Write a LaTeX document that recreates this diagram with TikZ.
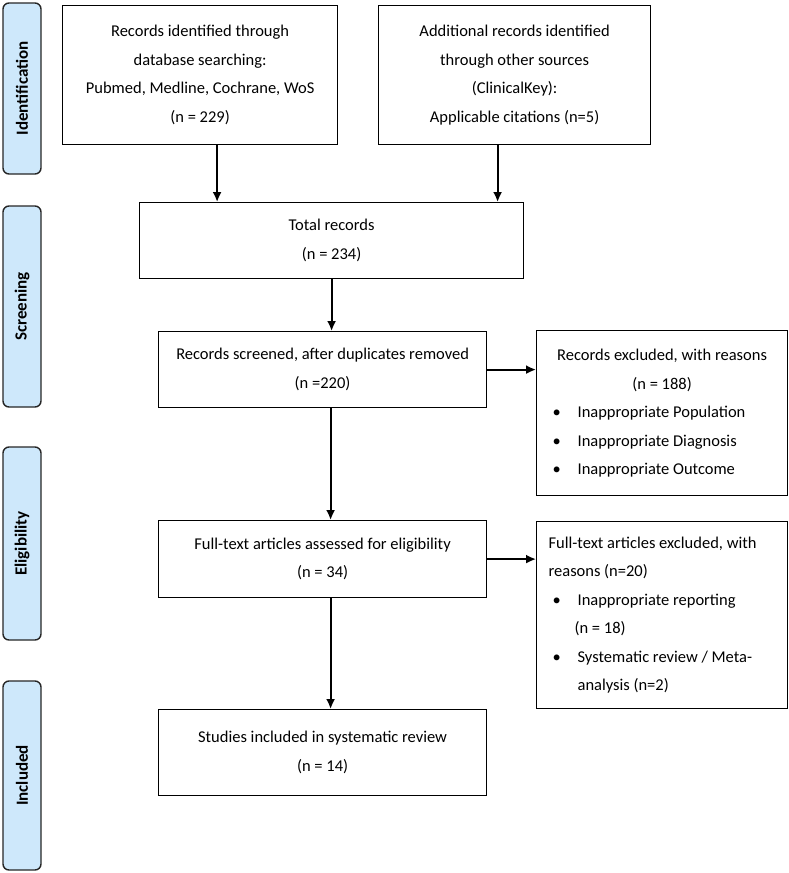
\documentclass[tikz,border=0pt]{standalone}
\usepackage{fontspec}
\setmainfont{Carlito}
\usetikzlibrary{arrows.meta, positioning}
\definecolor{tabblue}{RGB}{206,232,251}
\tikzstyle{block} = [draw, fill=white, rectangle, line width=1.2pt, anchor=north west, inner xsep=6pt, inner ysep=0pt]
\tikzstyle{reasons} = [block, inner xsep=12pt, text width=227pt, align=flush left]
\tikzstyle{phase} = [draw=black!85, fill=tabblue, rectangle, rounded corners=6pt, line width=1.4pt, rotate=90, minimum height=38pt, font=\fontsize{17}{20}\selectfont\bfseries]
\newcommand{\itm}[1]{\hspace*{4pt}\makebox[25pt][l]{\textbullet}#1}

\begin{document}
\begin{tikzpicture}[x=1pt, y=-1pt, >={Latex[length=10pt,width=9pt]}, font=\fontsize{16.5}{28.5}\selectfont]
    \useasboundingbox (0,0) rectangle (789,873);
    % phases
    \node [phase, minimum width=171pt] (ident) at (22,88.5) {Identification};
    \node [phase, minimum width=201pt] (screen) at (22,306.5) {Screening};
    \node [phase, minimum width=193pt] (elig) at (22,543.5) {Eligibility};
    \node [phase, minimum width=189pt] (incl) at (22,775.5) {Included};
    % boxes
    \node [block, minimum width=275pt, minimum height=139pt, align=center] (dbsearch) at (62,5) {Records identified through\\database searching:\\Pubmed, Medline, Cochrane, WoS\\(n = 229)};
    \node [block, minimum width=272pt, minimum height=139pt, align=center] (other) at (378,5) {Additional records identified\\through other sources\\(ClinicalKey):\\Applicable citations (n=5)};
    \node [block, minimum width=384pt, minimum height=76pt, align=center] (total) at (139,202) {Total records\\(n = 234)};
    \node [block, minimum width=328pt, minimum height=76pt, align=center] (screened) at (158,331) {Records screened, after duplicates removed\\(n =220)};
    \node [reasons, minimum height=165pt] (excl) at (536,330) {\makebox[\linewidth]{Records excluded, with reasons}\\\makebox[\linewidth]{(n = 188)}\\\itm{Inappropriate Population}\\\itm{Inappropriate Diagnosis}\\\itm{Inappropriate Outcome}};
    \node [block, minimum width=328pt, minimum height=77pt, align=center] (fulltext) at (158,520) {Full-text articles assessed for eligibility\\(n = 34)};
    \node [reasons, minimum height=187pt] (ftexcl) at (536,521) {Full-text articles excluded, with\\reasons (n=20)\\\itm{Inappropriate reporting}\\\hspace*{26pt}(n = 18)\\\itm{Systematic review / Meta-}\\\hspace*{29pt}analysis (n=2)};
    \node [block, minimum width=328pt, minimum height=86pt, align=center] (studies) at (158,709) {Studies included in systematic review\\(n = 14)};
    % arrows
    \draw [->, line width=1.8pt] ([xshift=17pt]dbsearch.south) -- ([xshift=17pt]dbsearch.south |- total.north);
    \draw [->, line width=1.8pt] ([xshift=-17pt]other.south) -- ([xshift=-17pt]other.south |- total.north);
    \draw [->, line width=1.8pt] (total.south) -- (total.south |- screened.north);
    \draw [->, line width=1.8pt] (screened.east) -- (screened.east -| excl.west);
    \draw [->, line width=1.8pt] ([xshift=8pt]screened.south) -- ([xshift=8pt]screened.south |- fulltext.north);
    \draw [->, line width=1.8pt] (fulltext.east) -- (fulltext.east -| ftexcl.west);
    \draw [->, line width=1.8pt] ([xshift=8pt]fulltext.south) -- ([xshift=8pt]fulltext.south |- studies.north);
\end{tikzpicture}
\end{document}
